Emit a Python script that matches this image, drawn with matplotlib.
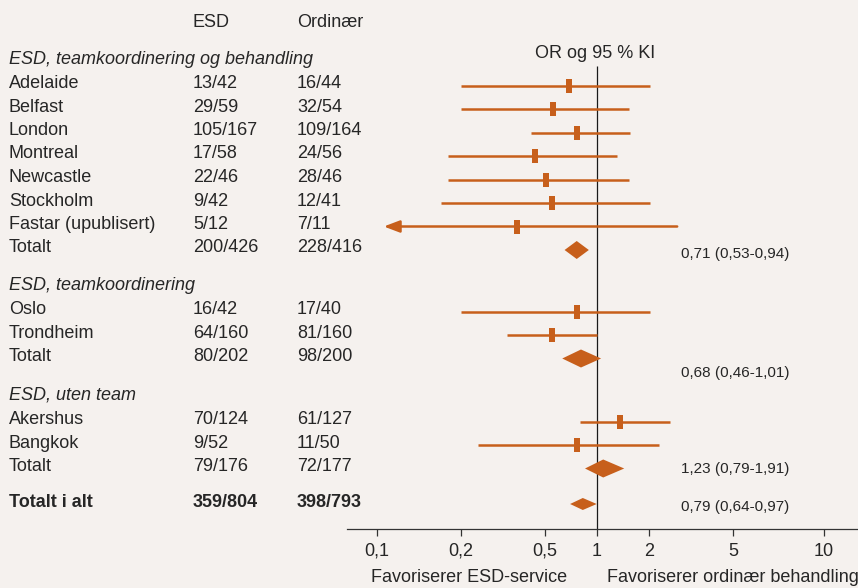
import numpy as np
import matplotlib
matplotlib.use('Agg')
from matplotlib import pyplot as plt

plt.rcParams['font.family'] = ['Liberation Sans', 'DejaVu Sans']

# data
SECTIONS = [
    'ESD, teamkoordinering og behandling',
    'ESD, teamkoordinering',
    'ESD, uten team',
]
STUDIES = [
    'Adelaide', 'Belfast', 'London', 'Montreal', 'Newcastle', 'Stockholm',
    'Fastar (upublisert)', 'Oslo', 'Trondheim', 'Akershus', 'Bangkok',
]
GROUP = [0, 0, 0, 0, 0, 0, 0, 1, 1, 2, 2]
ESD_COUNTS = ['13/42', '29/59', '105/167', '17/58', '22/46', '9/42', '5/12',
              '16/42', '64/160', '70/124', '9/52']
ORD_COUNTS = ['16/44', '32/54', '109/164', '24/56', '28/46', '12/41', '7/11',
              '17/40', '81/160', '61/127', '11/50']
ODDS = [0.69, 0.56, 0.77, 0.45, 0.51, 0.55, 0.37, 0.77, 0.55, 1.36, 0.77]
CI_LO = [0.20, 0.20, 0.43, 0.18, 0.18, 0.17, 0.106, 0.20, 0.33, 0.80, 0.24]
CI_HI = [2.02, 1.53, 1.55, 1.31, 1.53, 2.02, 2.72, 2.02, 1.00, 2.51, 2.23]
TRUNCATED = [False, False, False, False, False, False, True,
             False, False, False, False]

POOLED_ESD = ['200/426', '80/202', '79/176', '359/804']
POOLED_ORD = ['228/416', '98/200', '72/177', '398/793']
POOLED_OR = [0.765, 0.81, 1.09, 0.83]
POOLED_LO = [0.65, 0.63, 0.855, 0.70]
POOLED_HI = [0.90, 1.06, 1.44, 1.00]
POOLED_LABEL = ['0,71 (0,53-0,94)', '0,68 (0,46-1,01)', '1,23 (0,79-1,91)',
                '0,79 (0,64-0,97)']

TICK_VALUES = [0.1, 0.2, 0.5, 1, 2, 5, 10]
TICK_LABELS = ['0,1', '0,2', '0,5', '1', '2', '5', '10']

# layout (pixels from top-left)
W, H = 858, 588
AX_LEFT, AX_BOTTOM = 347, 529
TICK_PIXELS = np.array([376.7, 461, 545, 596.7, 649, 733, 824])
SECTION_TOP = [62, 288, 398]
ROW_STEP = 23.5
OVERALL_Y = 504
LABEL_DY = [4, 14, 0, 3]
COL_NAME, COL_ESD, COL_ORD = 9, 193, 297

ORANGE = '#C75F1B'
BG = '#F5F1EE'
INK = '#262626'

LOG_TICKS = np.log10(TICK_VALUES)


def to_pixel(x):
    lx = np.log10(np.clip(np.asarray(x, dtype=float), 1e-9, None))
    px = np.interp(lx, LOG_TICKS, TICK_PIXELS)
    s0 = (TICK_PIXELS[1] - TICK_PIXELS[0]) / (LOG_TICKS[1] - LOG_TICKS[0])
    s1 = (TICK_PIXELS[-1] - TICK_PIXELS[-2]) / (LOG_TICKS[-1] - LOG_TICKS[-2])
    px = np.where(lx < LOG_TICKS[0], TICK_PIXELS[0] + (lx - LOG_TICKS[0]) * s0, px)
    px = np.where(lx > LOG_TICKS[-1], TICK_PIXELS[-1] + (lx - LOG_TICKS[-1]) * s1, px)
    return px


def from_pixel(p):
    p = np.asarray(p, dtype=float)
    lx = np.interp(p, TICK_PIXELS, LOG_TICKS)
    s0 = (LOG_TICKS[1] - LOG_TICKS[0]) / (TICK_PIXELS[1] - TICK_PIXELS[0])
    s1 = (LOG_TICKS[-1] - LOG_TICKS[-2]) / (TICK_PIXELS[-1] - TICK_PIXELS[-2])
    lx = np.where(p < TICK_PIXELS[0], LOG_TICKS[0] + (p - TICK_PIXELS[0]) * s0, lx)
    lx = np.where(p > TICK_PIXELS[-1], LOG_TICKS[-1] + (p - TICK_PIXELS[-1]) * s1, lx)
    return 10 ** lx


fig = plt.figure(figsize=(W / 100, H / 100), dpi=100, facecolor=BG)

# full-figure axes for the table text
tab = fig.add_axes([0, 0, 1, 1])
tab.set_xlim(0, W)
tab.set_ylim(H, 0)
tab.axis('off')

# forest plot axes
ax = fig.add_axes([AX_LEFT / W, (H - AX_BOTTOM) / H, (W - AX_LEFT) / W, AX_BOTTOM / H])
ax.set_facecolor('none')
ax.set_xscale('function', functions=(to_pixel, from_pixel))
ax.set_xlim(from_pixel(AX_LEFT), from_pixel(W))
ax.set_ylim(AX_BOTTOM, 0)
for side in ['left', 'right', 'top']:
    ax.spines[side].set_visible(False)
ax.spines['bottom'].set_color('#333333')
ax.spines['bottom'].set_linewidth(0.9)
ax.set_yticks([])
ax.set_xticks(TICK_VALUES)
ax.set_xticklabels(TICK_LABELS)
ax.minorticks_off()
ax.tick_params(axis='x', length=5, width=0.9, color='#333333', pad=5,
               labelsize=13, labelcolor=INK)

ax.vlines(1, 66, AX_BOTTOM, color='#1a1a1a', lw=0.9, zorder=1)

marker_shape = [(-0.25, -0.5), (0.25, -0.5), (0.25, 0.5), (-0.25, 0.5), (-0.25, -0.5)]
text_kw = dict(fontsize=13, color=INK, va='baseline')


def draw_diamond(y, lo, mid, hi, half):
    ax.fill([lo, mid, hi, mid], [y, y - half, y, y + half],
            color=ORANGE, lw=0, zorder=3)


tab.text(COL_ESD, 27, 'ESD', **text_kw)
tab.text(COL_ORD, 27, 'Ordinær', **text_kw)
tab.text(595, 58, 'OR og 95 % KI', ha='center', **text_kw)

for g, title in enumerate(SECTIONS):
    top = SECTION_TOP[g]
    tab.text(COL_NAME, top + 2, title, style='italic', **text_kw)
    members = [i for i, grp in enumerate(GROUP) if grp == g]
    for k, i in enumerate(members):
        y = top + (k + 1) * ROW_STEP
        tab.text(COL_NAME, y + 2.5, STUDIES[i], **text_kw)
        tab.text(COL_ESD, y + 2.5, ESD_COUNTS[i], **text_kw)
        tab.text(COL_ORD, y + 2.5, ORD_COUNTS[i], **text_kw)
        if TRUNCATED[i]:
            ax.annotate('', xy=(CI_LO[i], y), xytext=(CI_HI[i], y),
                        arrowprops=dict(arrowstyle='-|>,head_length=0.95,head_width=0.36',
                                        color=ORANGE, lw=1.8, shrinkA=0, shrinkB=0,
                                        mutation_scale=10))
        else:
            ax.hlines(y, CI_LO[i], CI_HI[i], color=ORANGE, lw=1.8, zorder=2)
        ax.plot(ODDS[i], y, marker=marker_shape, markersize=10, color=ORANGE,
                markeredgewidth=0, linestyle='none', zorder=3)
    y = top + (len(members) + 1) * ROW_STEP
    tab.text(COL_NAME, y + 2.5, 'Totalt', **text_kw)
    tab.text(COL_ESD, y + 2.5, POOLED_ESD[g], **text_kw)
    tab.text(COL_ORD, y + 2.5, POOLED_ORD[g], **text_kw)
    draw_diamond(y, POOLED_LO[g], POOLED_OR[g], POOLED_HI[g], 9)
    tab.text(681, y + LABEL_DY[g], POOLED_LABEL[g], fontsize=11, color=INK, va='center')

y = OVERALL_Y
tab.text(COL_NAME, y + 3, 'Totalt i alt', fontweight='bold', **text_kw)
tab.text(COL_ESD, y + 3, POOLED_ESD[3], fontweight='bold', **text_kw)
tab.text(COL_ORD, y + 3, POOLED_ORD[3], fontweight='bold', **text_kw)
draw_diamond(y, POOLED_LO[3], POOLED_OR[3], POOLED_HI[3], 6)
tab.text(681, y + LABEL_DY[3], POOLED_LABEL[3], fontsize=11, color=INK, va='center')

tab.text(469, 582, 'Favoriserer ESD-service', ha='center', **text_kw)
tab.text(607, 582, 'Favoriserer ordinær behandling', ha='left', **text_kw)

fig.savefig('out.png', dpi=100, facecolor=BG)
